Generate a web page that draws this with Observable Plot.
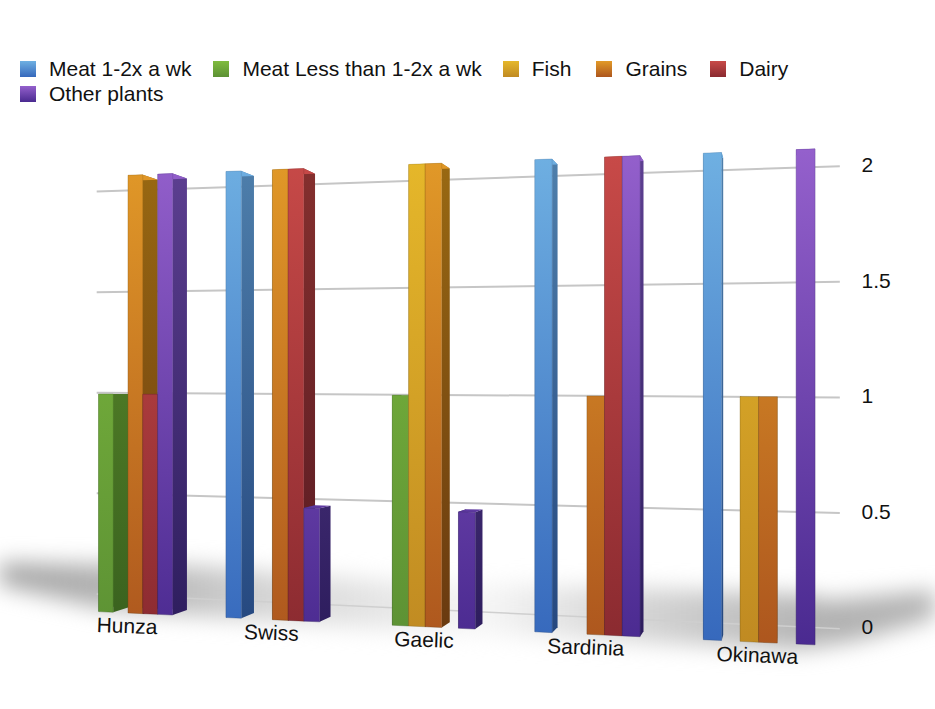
<!DOCTYPE html>
<html>
<head>
<meta charset="utf-8">
<script src="https://cdn.jsdelivr.net/npm/d3@7"></script>
<script src="https://cdn.jsdelivr.net/npm/@observablehq/plot@0.6"></script>
<style>
  html,body{margin:0;padding:0;background:#fff;overflow:hidden}
  body{width:935px;height:709px;position:relative;font-family:"Liberation Sans",Arial,sans-serif;color:#111}
  #shadow{position:absolute;left:0;top:0;width:935px;height:709px;filter:blur(11px);overflow:hidden}
  #shadow div{position:absolute;inset:0;
    background:linear-gradient(to right,#a4a4a4 0,#b8b8b8 16%,#d8d8d8 30%,#e8e8e8 42%,#f6f6f6 52%,#e0e0e0 62%,#c8c8c8 76%,#b2b2b2 88%,#b4b4b4 100%);
    clip-path:polygon(-20px 562px,80px 564px,200px 566px,400px 582px,600px 587px,800px 594px,830px 600px,955px 588px,955px 612px,860px 640px,800px 650px,600px 640px,400px 630px,200px 616px,100px 608px,-20px 580px)}
  #legend{position:relative;box-sizing:border-box;height:130px;padding:56px 0 0 20px;width:815px;display:flex;flex-wrap:wrap;align-content:flex-start;column-gap:22px;font-size:21px;line-height:25px}
  .item{display:flex;align-items:center;white-space:nowrap}
  .item:nth-child(2){margin-right:-1px}
  .item:nth-child(3){margin-right:3px}
  .item:nth-child(4){margin-right:1px}
  .sw{display:inline-block;width:16px;height:16px;margin-right:13px}
  #chart{position:relative}
  svg{display:block;background:transparent!important;overflow:visible}
</style>
</head>
<body>
<div id="shadow"><div></div></div>
<div id="legend"></div>
<div id="chart"></div>
<script>
// ---- data ----
const categories = ["Hunza", "Swiss", "Gaelic", "Sardinia", "Okinawa"];
const seriesNames = ["Meat 1-2x a wk", "Meat Less than 1-2x a wk", "Fish", "Grains", "Dairy", "Other plants"];
const meat     = [0, 2, 0, 2, 2];
const meatLess = [1, 0, 1, 0, 0];
const fish     = [0, 0, 2, 0, 1];
const grains   = [2, 2, 2, 1, 1];
const dairy    = [1, 2, 0, 2, 0];
const plants   = [2, 0.5, 0.5, 2, 2];
const seriesValues = [meat, meatLess, fish, grains, dairy, plants];
const yTicks = [0, 0.5, 1, 1.5, 2];

// ---- colours: front gradient (top, bottom), side gradient (top, bottom) ----
const frontStops = [["#6fb0e2","#3668bc"],["#80bc3e","#5c9134"],["#e6b82a","#c08a22"],["#e29a28","#ad561e"],["#c84a48","#8a2a30"],["#9460cc","#4a2a90"]];
const sideStops  = [["#4f80ac","#24467e"],["#5f8f2c","#38601e"],["#a0801c","#7a5a14"],["#9a6a12","#683810"],["#86302e","#561a22"],["#5e4092","#2c1c5c"]];

// ---- layout of the slots along the axis ----
const groupStep = 9.5;
const rows = [];
categories.forEach((c, g) => seriesNames.forEach((s, i) => {
  const v = seriesValues[i][g];
  if (v > 0) rows.push({category: c, series: s, si: i, value: v, u1: g * groupStep + i, u2: g * groupStep + i + 1});
}));
const labels = categories.map((c, g) => ({category: c, u: g * groupStep + 2.9}));

// ---- the chart's perspective view of its flat frame ----
const top0 = 130;                      // height of the legend block
const k = 0.0001986, flat0 = 84;       // foreshortening along the axis
const vx = 790;                        // vanishing point of the depth axis
const midFlat = 396 - top0, squash = 217 / 231;
const midY = x => 394 - top0 + 0.004 * (x - 100);
function project(fx, fy, t = 0) {
  const w = 1 - k * (fx - flat0);
  let x = fx / w;
  const m = midY(x);
  let y = m + (fy - midFlat) * squash / w;
  x += t * (vx - x);
  y += t * (m - y);
  return [x, y];
}
const wallDepth = 0.072, barDepth = 0.023;
const wallLift = (x, v) => -1.5 * v * (840 - x) / 743;   // the back wall opens a little wider at its far end
const NS = "http://www.w3.org/2000/svg";
function poly(pts, fill, stroke) {
  const p = document.createElementNS(NS, "polygon");
  p.setAttribute("points", pts.map(q => q.map(n => n.toFixed(2)).join(",")).join(" "));
  p.setAttribute("fill", fill);
  if (stroke) { p.setAttribute("stroke", stroke); p.setAttribute("stroke-width", 0.6); p.setAttribute("stroke-opacity", 0.6); }
  return p;
}

function gradient(id, stops) {
  const g = document.createElementNS(NS, "linearGradient");
  g.setAttribute("id", id);
  g.setAttribute("gradientUnits", "userSpaceOnUse");
  g.setAttribute("x1", 0); g.setAttribute("x2", 0);
  g.setAttribute("y1", 20); g.setAttribute("y2", 515);
  stops.forEach((c, i) => {
    const s = document.createElementNS(NS, "stop");
    s.setAttribute("offset", i);
    s.setAttribute("stop-color", c);
    g.appendChild(s);
  });
  return g;
}
const defsMark = () => {
  const d = document.createElementNS(NS, "defs");
  frontStops.forEach((st, i) => d.appendChild(gradient("f" + i, st)));
  sideStops.forEach((st, i) => d.appendChild(gradient("s" + i, st)));
  return d;
};

// ---- legend ----
const legend = document.getElementById("legend");
seriesNames.forEach((s, i) => {
  const it = document.createElement("div"); it.className = "item";
  const sw = document.createElement("span"); sw.className = "sw";
  sw.style.background = `linear-gradient(${frontStops[i][0]},${frontStops[i][1]})`;
  const tx = document.createElement("span"); tx.textContent = s;
  it.append(sw, tx); legend.appendChild(it);
});

// ---- chart ----
const chart = Plot.plot({
  width: 935,
  height: 709 - top0,
  marginLeft: 0, marginRight: 80, marginTop: 0, marginBottom: 0,
  style: {fontFamily: '"Liberation Sans",Arial,sans-serif', fontSize: "21px", color: "#111", background: "transparent"},
  x: {domain: [-3, 45.5], range: [84 - 3 * 14.3, 84 + 45.5 * 14.3], axis: null},
  y: {domain: [0, 2], range: [627 - top0, 165 - top0], axis: null},
  color: {domain: seriesNames, range: seriesNames.map((s, i) => `url(#f${i})`)},
  marks: [
    defsMark,
    Plot.ruleY(yTicks, {
      x1: () => -3, x2: () => 45.5, y: d => d,
      stroke: d => d === 0 ? "#cfcfcf" : "#c6c6c6",
      strokeWidth: d => d === 0 ? 1.5 : 2,
      render(index, scales, values, dims, ctx, next) {
        const g = next(index, scales, values, dims, ctx);
        g.querySelectorAll("line").forEach((ln, j) => {
          const i = index[j], v = yTicks[i];
          const a = project(values.x1[i], values.y[i], wallDepth);
          const b = project(values.x2[i], values.y[i], wallDepth);
          ln.setAttribute("x1", a[0] + 2); ln.setAttribute("y1", a[1] + wallLift(a[0], v));
          ln.setAttribute("x2", b[0]); ln.setAttribute("y2", b[1] + wallLift(b[0], v));
        });
        return g;
      }
    }),
    Plot.rect(rows, {
      x1: "u1", x2: "u2", y1: () => 0, y2: "value", fill: "series",
      render(index, scales, values, dims, ctx, next) {
        const g = next(index, scales, values, dims, ctx);
        while (g.firstChild) g.removeChild(g.firstChild);
        for (const i of index) {
          const x1 = values.x1[i], x2 = values.x2[i];
          const y0 = values.y1[i], yv = values.y2[i];
          const si = rows[i].si;
          const side = `url(#s${si})`;
          const fl = project(x1, y0), fr = project(x2, y0), tr = project(x2, yv), tl = project(x1, yv);
          const bl = project(x1, y0, barDepth), br = project(x2, y0, barDepth), trb = project(x2, yv, barDepth), tlb = project(x1, yv, barDepth);
          g.appendChild(poly([fl, tl, tlb, bl], side));
          g.appendChild(poly([fr, tr, trb, br], side));
          g.appendChild(poly([tl, tr, trb, tlb], `url(#f${si})`));
          g.appendChild(poly([fl, fr, tr, tl], values.fill[i], side));
        }
        return g;
      }
    }),
    Plot.text(labels, {
      x: "u", y: () => 0, text: "category", fontSize: 21, fill: "#111",
      render(index, scales, values, dims, ctx, next) {
        const g = next(index, scales, values, dims, ctx);
        g.querySelectorAll("text").forEach((t, j) => {
          const i = index[j];
          const p = project(values.x[i], values.y[i]);
          t.setAttribute("transform", `translate(${p[0]},${p[1] + 13}) rotate(2)`);
        });
        return g;
      }
    }),
    Plot.axisY({
      anchor: "right", ticks: yTicks, tickSize: 0, tickPadding: 6, label: null,
      tickFormat: d => String(d), fontSize: 21, fill: "#111", textAnchor: "start"
    })
  ]
});
document.getElementById("chart").appendChild(chart);
</script>
</body>
</html>
